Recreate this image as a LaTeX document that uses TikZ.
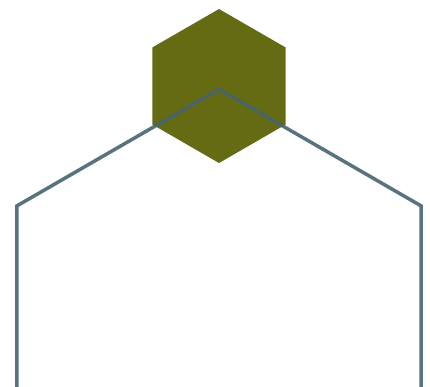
\documentclass[tikz,border=0pt]{standalone}
\usepackage{xcolor}
\usepackage{tikz}
\usetikzlibrary{calc}
\definecolor{hexolive}{RGB}{101, 107, 19}
\definecolor{hexslate}{RGB}{70, 100, 112}

\begin{document}
\begin{tikzpicture}[
    x=0.03cm, y=-0.03cm,
    smallhex/.style={fill=hexolive, draw=none},
    bighex/.style={draw=hexslate, draw opacity=0.9, line width=0.105cm, line join=miter}
]
    \useasboundingbox (0,0) rectangle (430,386);
    \clip (0,0) rectangle (430,386);
    % filled hexagon, pointy top
    \coordinate (small) at (219,86);
    \fill[smallhex] ($(small)+(90:77)$) \foreach \a in {150,210,...,390} { -- ($(small)+(\a:77)$) } -- cycle;
    % large outline hexagon
    \coordinate (big) at (219,322.5);
    \draw[bighex] ($(big)+(90:233.3)$) \foreach \a in {150,210,...,390} { -- ($(big)+(\a:233.3)$) } -- cycle;
\end{tikzpicture}
\end{document}
